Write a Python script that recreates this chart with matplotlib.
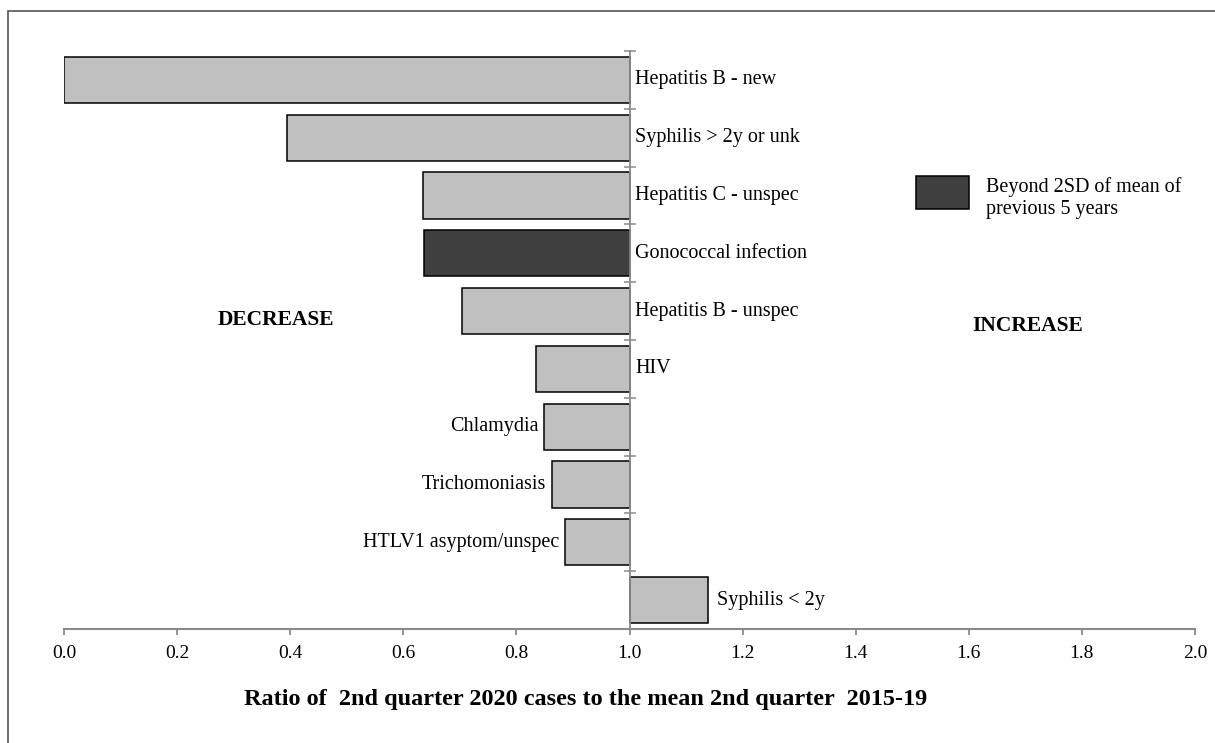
import matplotlib.pyplot as plt
from matplotlib.patches import Rectangle

plt.rcParams['font.family'] = ['Liberation Serif', 'DejaVu Serif']

# data, top to bottom
infections = [
    "Hepatitis B - new",
    "Syphilis > 2y or unk",
    "Hepatitis C - unspec",
    "Gonococcal infection",
    "Hepatitis B - unspec",
    "HIV",
    "Chlamydia",
    "Trichomoniasis",
    "HTLV1 asyptom/unspec",
    "Syphilis < 2y",
]
ratios = [0.0, 0.395, 0.634, 0.636, 0.704, 0.834, 0.849, 0.863, 0.886, 1.138]
beyond_2sd = [False, False, False, True, False, False, False, False, False, False]

# where each label sits: next to the axis, left of the bar, or after the bar end
label_pos = ["axis"] * 6 + ["left"] * 3 + ["end"]

light = "#c0c0c0"
dark = "#404040"
axis_grey = "#8a8a8a"

fig = plt.figure(figsize=(12.15, 7.43), dpi=100)
ax = fig.add_axes([64 / 1215, 1 - 629 / 743, 1131 / 1215, 578 / 743])

ypos = list(range(len(infections)))
colors = [dark if b else light for b in beyond_2sd]
ax.barh(ypos, [r - 1.0 for r in ratios], left=1.0, height=0.8,
        color=colors, edgecolor="black", linewidth=1.1, zorder=2)

ax.set_xlim(0, 2.0)
ax.set_ylim(len(infections) - 0.5, -0.5)
ax.set_xticks([0.0, 0.2, 0.4, 0.6, 0.8, 1.0, 1.2, 1.4, 1.6, 1.8, 2.0])
ax.set_xticklabels([f"{v:.1f}" for v in ax.get_xticks()], fontsize=14)
ax.set_yticks([i - 0.5 for i in range(len(infections))])
ax.set_yticklabels([])

for s in ["top", "right"]:
    ax.spines[s].set_visible(False)
ax.spines["left"].set_position(("data", 1.0))
ax.spines["left"].set_color(axis_grey)
ax.spines["left"].set_linewidth(1.3)
ax.spines["left"].set_zorder(3)
ax.spines["bottom"].set_color(axis_grey)
ax.spines["bottom"].set_linewidth(1.5)
ax.tick_params(axis="y", direction="inout", length=8, width=1.1, color=axis_grey)
ax.tick_params(axis="x", direction="out", length=4.5, width=1.3, color=axis_grey,
               pad=7)

ax.set_xlabel("Ratio of  2nd quarter 2020 cases to the mean 2nd quarter  2015-19",
              fontsize=17.5, fontweight="bold")
ax.xaxis.set_label_coords(0.461, -0.103)

for y, (name, r, pos) in enumerate(zip(infections, ratios, label_pos)):
    if pos == "axis":
        ax.annotate(name, (1.0, y), xytext=(4, 0), textcoords="offset points",
                    ha="left", va="center", fontsize=14.5)
    elif pos == "left":
        ax.annotate(name, (r, y), xytext=(-4, 0), textcoords="offset points",
                    ha="right", va="center", fontsize=14.5)
    else:
        ax.annotate(name, (r, y), xytext=(7, 0), textcoords="offset points",
                    ha="left", va="center", fontsize=14.5)

ax.text(0.1875, 1 - (320 - 51) / 578, "DECREASE", transform=ax.transAxes,
        ha="center", va="center", fontsize=15.5, fontweight="bold")
ax.text(0.852, 1 - (326 - 51) / 578, "INCREASE", transform=ax.transAxes,
        ha="center", va="center", fontsize=15.5, fontweight="bold")

# legend box
ax.add_patch(Rectangle((0.7533, 0.7266), 0.0469, 0.0571, transform=ax.transAxes,
                       facecolor=dark, edgecolor="black", linewidth=1.1,
                       clip_on=False))
ax.text(0.815, 1 - (198 - 51) / 578, "Beyond 2SD of mean of\nprevious 5 years",
        transform=ax.transAxes, ha="left", va="center", fontsize=14.5,
        linespacing=1.2)

# outer frame
fig.patches.append(Rectangle((8 / 1215, -0.1), 1.2, 1 - 11 / 743 + 0.1,
                             transform=fig.transFigure, fill=False,
                             edgecolor="#555555", linewidth=1.2))

fig.savefig("out.png", dpi=100)
